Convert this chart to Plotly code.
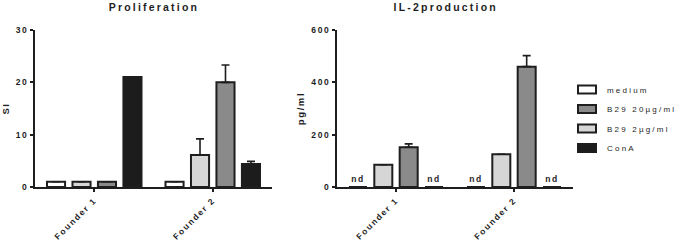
import plotly.graph_objects as go

# ---------------- data ----------------
categories = ["Founder 1", "Founder 2"]
series_names = ["medium", "B29 2µg/ml", "B29 20µg/ml", "ConA"]
legend_rank = [1, 3, 2, 4]
series_colors = ["#ffffff", "#d6d6d6", "#8a8a8a", "#1c1c1c"]

# Proliferation (SI)
si_medium = [1.0, 1.0]
si_medium_err = [0, 0]
si_b29_2 = [1.0, 6.1]
si_b29_2_err = [0, 3.1]
si_b29_20 = [1.0, 20.0]
si_b29_20_err = [0, 3.3]
si_cona = [21.0, 4.4]
si_cona_err = [0, 0.5]

# IL-2 production (pg/ml); "nd" = not detected
il2_medium = [0, 0]
il2_medium_err = [0, 0]
il2_medium_text = ["nd", "nd"]
il2_b29_2 = [85, 125]
il2_b29_2_err = [0, 0]
il2_b29_20 = [152, 460]
il2_b29_20_err = [13, 42]
il2_cona = [0, 0]
il2_cona_err = [0, 0]
il2_cona_text = ["nd", "nd"]

si_ticks = [0, 10, 20, 30]
il2_ticks = [0, 200, 400, 600]

# ---------------- figure ----------------
FONT = "Liberation Sans"
DARK = "#1e1e1e"

fig = go.Figure()

si_series = [(si_medium, si_medium_err), (si_b29_2, si_b29_2_err),
             (si_b29_20, si_b29_20_err), (si_cona, si_cona_err)]
il2_series = [(il2_medium, il2_medium_err, il2_medium_text),
              (il2_b29_2, il2_b29_2_err, None),
              (il2_b29_20, il2_b29_20_err, None),
              (il2_cona, il2_cona_err, il2_cona_text)]

for i, (vals, err) in enumerate(si_series):
    fig.add_trace(go.Bar(
        x=categories, y=vals, name=series_names[i], legendgroup=series_names[i],
        legendrank=legend_rank[i], showlegend=True,
        marker=dict(color=series_colors[i], line=dict(color=DARK, width=2)),
        error_y=dict(type="data", array=err, arrayminus=[0] * len(err), symmetric=False,
                     visible=True, color=DARK, thickness=1.6, width=4),
        xaxis="x", yaxis="y",
    ))

for i, (vals, err, txt) in enumerate(il2_series):
    fig.add_trace(go.Bar(
        x=categories, y=vals, name=series_names[i], legendgroup=series_names[i],
        showlegend=False,
        marker=dict(color=series_colors[i], line=dict(color=DARK, width=2)),
        error_y=dict(type="data", array=err, arrayminus=[0] * len(err), symmetric=False,
                     visible=True, color=DARK, thickness=1.6, width=4),
        text=txt, textposition="outside" if txt else None,
        textfont=dict(family=FONT, size=8.5, color=DARK, weight="bold"),
        cliponaxis=False,
        xaxis="x2", yaxis="y2",
    ))

W, H = 681, 246
ydom = [(H - 187) / H, (H - 30) / H]

axis_common = dict(
    showline=True, linecolor=DARK, linewidth=2, showgrid=False, zeroline=False,
    ticks="outside", ticklen=3, tickwidth=2, tickcolor=DARK,
    tickfont=dict(family=FONT, size=8.5, color=DARK, weight="bold"),
)

fig.update_layout(
    width=W, height=H,
    margin=dict(l=0, r=0, t=0, b=0, autoexpand=False),
    paper_bgcolor="white", plot_bgcolor="white",
    barmode="group", bargap=0.14, bargroupgap=0.29,
    font=dict(family=FONT, color=DARK),
    xaxis=dict(domain=[35 / W, 272 / W], anchor="y", tickangle=-45, **axis_common),
    yaxis=dict(domain=ydom, anchor="x", range=[0, 30], tickvals=si_ticks,
               title=dict(text="SI", standoff=9,
                          font=dict(family=FONT, size=9.5, color=DARK, weight="bold")),
               **axis_common),
    xaxis2=dict(domain=[337 / W, 573 / W], anchor="y2", tickangle=-45, **axis_common),
    yaxis2=dict(domain=ydom, anchor="x2", range=[0, 600], tickvals=il2_ticks,
                title=dict(text="pg/ml", standoff=10,
                           font=dict(family=FONT, size=9.5, color=DARK, weight="bold")),
                **axis_common),
    legend=dict(x=567 / W, y=1 - 75 / H, xanchor="left", yanchor="top",
                font=dict(family=FONT, size=8, color=DARK),
                tracegroupgap=0.5, bgcolor="rgba(0,0,0,0)"),
    annotations=[
        dict(text="Proliferation", x=154 / W, y=1 - 7 / H, xref="paper", yref="paper",
             showarrow=False, xanchor="center", yanchor="middle",
             font=dict(family=FONT, size=10.5, color=DARK, weight="bold")),
        dict(text="IL-2production", x=446 / W, y=1 - 7 / H, xref="paper", yref="paper",
             showarrow=False, xanchor="center", yanchor="middle",
             font=dict(family=FONT, size=10.5, color=DARK, weight="bold")),
    ],
)

post = """
document.body.style.margin = '0';
var gd = document.getElementById('{plot_id}');
function setLS(sel, v){ gd.querySelectorAll(sel).forEach(function(t){ t.style.letterSpacing = v; }); }
function ls(){
  setLS('.annotation-text', '2.2px');
  setLS('.xtick text, .ytick text, .x2tick text, .y2tick text', '1.6px');
  setLS('.ytitle, .y2title', '1.6px');
  setLS('.legendtext', '2.2px');
  setLS('.bartext', '1.6px');
  gd.querySelectorAll('.legend [clip-path]').forEach(function(el){ el.removeAttribute('clip-path'); });
  gd.querySelectorAll('.legendpoints path').forEach(function(p){
    p.setAttribute('d', 'M9,4H-9V-4H9Z');
  });
}
ls();
gd.on('plotly_afterplot', ls);
"""
fig.write_html("out.html", post_script=post, config={"displayModeBar": False})
